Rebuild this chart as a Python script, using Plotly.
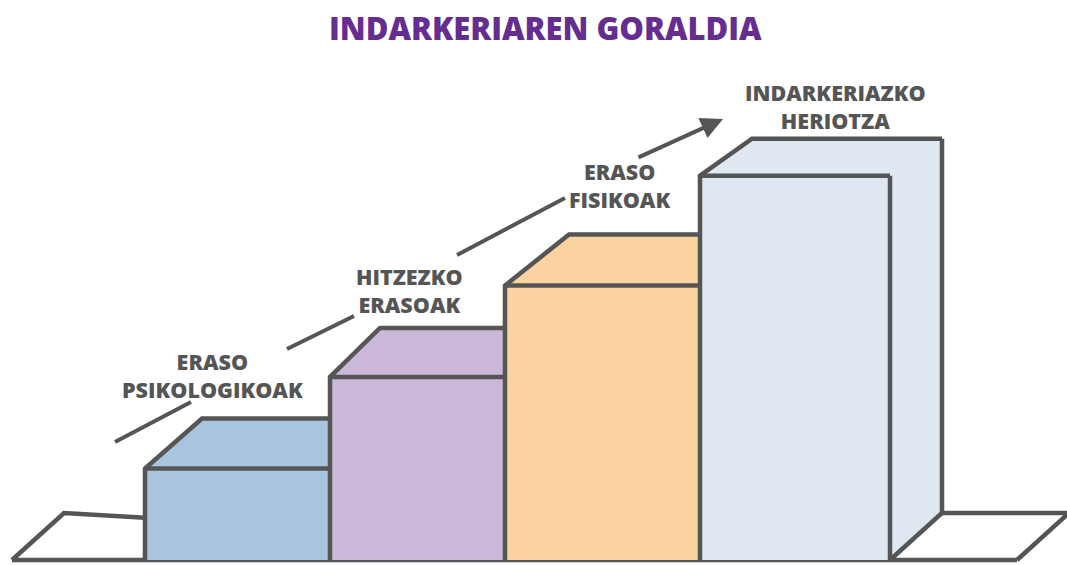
import plotly.graph_objects as go

# ---------------- data ----------------
TITLE = "INDARKERIAREN GORALDIA"
CATEGORIES = ["ERASO<br>PSIKOLOGIKOAK", "HITZEZKO<br>ERASOAK",
              "ERASO<br>FISIKOAK", "INDARKERIAZKO<br>HERIOTZA"]
VALUES = [1.0, 2.0, 3.0, 4.2]
COLORS = ["#a9c4dd", "#cbb8d9", "#fbd3a1", "#dfe8f1"]

# ---------------- layout / style ----------------
W, H = 1067, 565
PX_PER_UNIT = 91.5          # vertical pixels per value unit
BASE_PX = 560               # pixel row of the value 0
Y_MIN = -(H - BASE_PX) / PX_PER_UNIT
Y_MAX = BASE_PX / PX_PER_UNIT


def py(p):
    """pixel row -> value on the y axis"""
    return (BASE_PX - p) / PX_PER_UNIT


BAR_X0 = 145.0
BAR_WIDTHS = [185.0, 175.0, 195.0, 190.0]
DEPTH_X = [57.0, 50.0, 64.0, 52.0]       # per-bar top depth (px)
DEPTH_Y = [50.0, 49.0, 51.0, 37.0]       # per-bar top depth (px)
FLOOR_DX = 52.0
FLOOR_DY = 47.0 / PX_PER_UNIT
OUT = "#555555"
LW = 4.5
FLOOR_L = 12.0
FLOOR_R = 1017.0

LABEL_POS = [(212, 375), (409, 290), (619, 185), (835, 106)]
GUIDE_SEGS = [((115, 442), (191, 402)), ((287, 349), (354, 316)),
              ((457, 255), (565, 198))]
ARROW = ((637, 158), (723, 119))


def path(pts, close=False):
    s = "M " + " L ".join(f"{x},{y}" for x, y in pts)
    return s + (" Z" if close else "")


shapes = []


def fill(pts, color):
    shapes.append(dict(type="path", xref="x", yref="y", path=path(pts, True),
                       fillcolor=color, line=dict(width=0), layer="above"))


def stroke(pts, close=False):
    shapes.append(dict(type="path", xref="x", yref="y", path=path(pts, close),
                       fillcolor="rgba(0,0,0,0)",
                       line=dict(color=OUT, width=LW), layer="above"))


# floor
fill([(FLOOR_L, 0), (FLOOR_L + FLOOR_DX, FLOOR_DY),
      (FLOOR_R + FLOOR_DX, FLOOR_DY), (FLOOR_R, 0)], "white")
stroke([(FLOOR_L, 0), (FLOOR_L + FLOOR_DX, FLOOR_DY), (BAR_X0, FLOOR_DY * 0.9)])
stroke([(FLOOR_L, 0), (FLOOR_R, 0)])

n = len(VALUES)
L = BAR_X0
for i, (v, c) in enumerate(zip(VALUES, COLORS)):
    R = L + BAR_WIDTHS[i]
    dx = DEPTH_X[i]
    dy = DEPTH_Y[i] / PX_PER_UNIT
    last = i == n - 1
    back_r = R + dx if last else R
    # top face
    fill([(L, v), (L + dx, v + dy), (back_r, v + dy), (R, v)], c)
    # side face for last bar
    if last:
        fill([(R, v), (R + dx, v + dy), (R + dx, FLOOR_DY), (R, 0)], c)
    # front face
    fill([(L, 0), (L, v), (R, v), (R, 0)], c)
    # outlines
    stroke([(L, 0), (L, v), (L + dx, v + dy), (back_r, v + dy)])
    stroke([(L, v), (R, v)])
    if last:
        stroke([(R, v), (R, 0)])
        stroke([(R + dx, v + dy), (R + dx, FLOOR_DY), (R, 0)])
        stroke([(R + dx, FLOOR_DY), (FLOOR_R + FLOOR_DX, FLOOR_DY), (FLOOR_R, 0)])
    L = R

# guide line segments
for (a, b) in GUIDE_SEGS:
    shapes.append(dict(type="line", xref="x", yref="y",
                       x0=a[0], y0=py(a[1]), x1=b[0], y1=py(b[1]),
                       line=dict(color=OUT, width=4)))

annotations = []
for lab, (lx, ly) in zip(CATEGORIES, LABEL_POS):
    annotations.append(dict(x=lx, y=py(ly), xref="x", yref="y", text=lab,
                            showarrow=False, xanchor="center", yanchor="middle",
                            align="center",
                            font=dict(family="Open Sans", size=21.5, color=OUT,
                                      weight=800)))

(tx, ty), (hx, hy) = ARROW
annotations.append(dict(x=hx, y=py(hy), ax=tx, ay=py(ty), xref="x", yref="y",
                        axref="x", ayref="y", text="", showarrow=True,
                        arrowhead=2, arrowsize=1.1, arrowwidth=4,
                        arrowcolor=OUT))

annotations.append(dict(x=545, y=py(28), xref="x", yref="y", text=TITLE,
                        showarrow=False, xanchor="center", yanchor="middle",
                        font=dict(family="Open Sans", size=31, color="#662d91",
                                  weight=800)))

fig = go.Figure()
fig.add_trace(go.Scatter(x=[0, W], y=[Y_MIN, Y_MAX], mode="markers",
                         marker=dict(opacity=0), hoverinfo="skip",
                         showlegend=False))
fig.update_layout(
    width=W, height=H, margin=dict(l=0, r=0, t=0, b=0),
    paper_bgcolor="white", plot_bgcolor="white",
    xaxis=dict(range=[0, W], visible=False, fixedrange=True),
    yaxis=dict(range=[Y_MIN, Y_MAX], visible=False, fixedrange=True),
    shapes=shapes, annotations=annotations, showlegend=False,
)
fig.write_html("out.html", config={"displayModeBar": False},
               post_script="document.body.style.margin='0';document.body.style.overflow='hidden';")
